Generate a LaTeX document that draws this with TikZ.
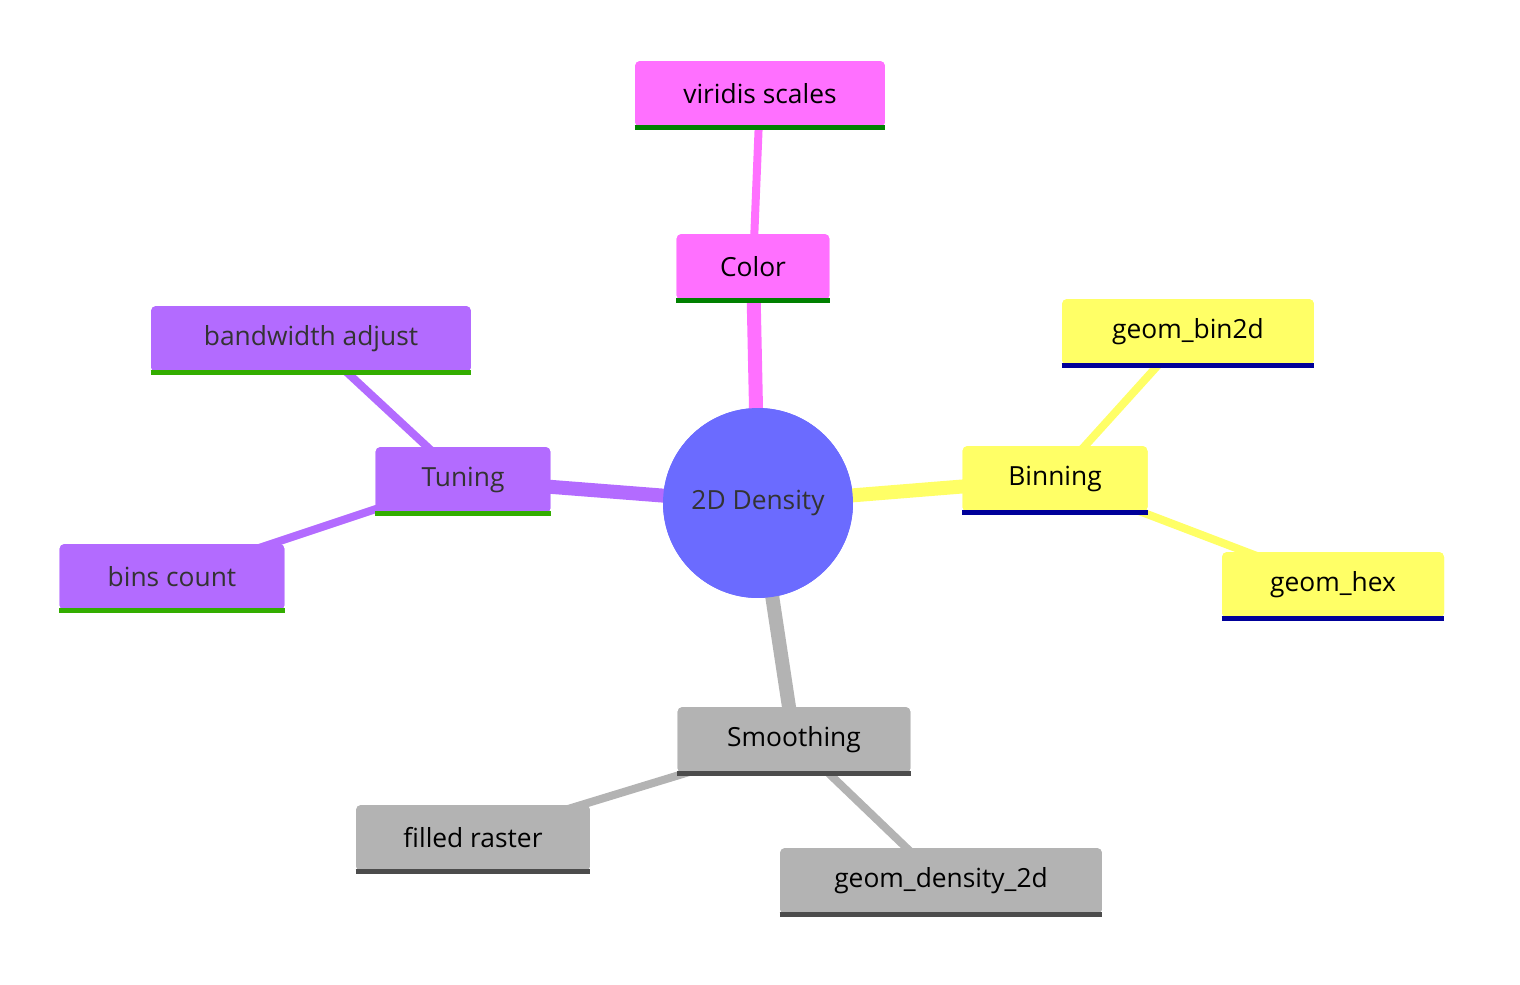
\documentclass[tikz,border=0pt]{standalone}
\usepackage{fontspec}
\setmainfont{Open Sans}
\definecolor{rootblue}{HTML}{6B6BFF}
\definecolor{pinkc}{HTML}{FF70FF}
\definecolor{yelc}{HTML}{FFFF66}
\definecolor{purc}{HTML}{B36BFF}
\definecolor{grayc}{HTML}{B3B3B3}
\definecolor{txtc}{HTML}{333333}
\tikzset{
  topic/.style={rectangle, rounded corners=0.1cm, minimum height=1.32cm, fill=#1, text=black,
    font=\fontsize{15}{18}\selectfont, inner sep=0pt},
  under/.style={line width=0.1cm, #1},
  link/.style={line width=#1, line cap=round},
}
\begin{document}
\begin{tikzpicture}[x=0.02cm, y=-0.02cm]
\useasboundingbox (0,0) rectangle (1520,984);

% root
\node[circle, fill=rootblue, minimum size=3.8cm, text=txtc, font=\fontsize{15}{18}\selectfont] (root) at (758,503) {2D Density};

% branch topics
\node[topic=pinkc, minimum width=3.06cm] (color) at (753,267) {Color};
\node[topic=pinkc, minimum width=5cm] (viridis) at (760,94) {viridis scales};
\node[topic=yelc, minimum width=3.7cm] (binning) at (1055,479) {Binning};
\node[topic=yelc, minimum width=5.04cm] (bin2d) at (1188,332) {geom\_bin2d};
\node[topic=yelc, minimum width=4.44cm] (hex) at (1333,585) {geom\_hex};
\node[topic=purc, minimum width=3.5cm, text=txtc] (tuning) at (463,480) {Tuning};
\node[topic=purc, minimum width=6.4cm, text=txtc] (bandwidth) at (311,339) {bandwidth adjust};
\node[topic=purc, minimum width=4.5cm, text=txtc] (bins) at (172,577) {bins count};
\node[topic=grayc, minimum width=4.66cm] (smoothing) at (794,740) {Smoothing};
\node[topic=grayc, minimum width=4.68cm] (raster) at (473,838) {filled raster};
\node[topic=grayc, minimum width=6.44cm] (dens2d) at (941,881) {geom\_density\_2d};

% connectors behind the nodes
\begin{scope}[on background layer/.style={}]
\end{scope}
\begin{pgfinterruptboundingbox}\end{pgfinterruptboundingbox}

\foreach \a/\b/\c/\w in {root/color/pinkc/0.28cm, color/viridis/pinkc/0.16cm,
    root/binning/yelc/0.28cm, binning/bin2d/yelc/0.16cm, binning/hex/yelc/0.16cm,
    root/tuning/purc/0.28cm, tuning/bandwidth/purc/0.16cm, tuning/bins/purc/0.16cm,
    root/smoothing/grayc/0.28cm, smoothing/raster/grayc/0.16cm, smoothing/dens2d/grayc/0.16cm}
  \draw[link=\w, \c] (\a.center) -- (\b.center);

% redraw nodes on top
\node[circle, fill=rootblue, minimum size=3.8cm, text=txtc, font=\fontsize{15}{18}\selectfont] at (root) {2D Density};
\foreach \n/\c/\t/\w/\u/\tc in {
    color/pinkc/Color/3.06cm/green!50!black/black,
    viridis/pinkc/viridis scales/5cm/green!50!black/black,
    binning/yelc/Binning/3.7cm/blue!60!black/black,
    bin2d/yelc/geom\_bin2d/5.04cm/blue!60!black/black,
    hex/yelc/geom\_hex/4.44cm/blue!60!black/black,
    tuning/purc/Tuning/3.5cm/green!60!black!80!yellow/txtc,
    bandwidth/purc/bandwidth adjust/6.4cm/green!60!black!80!yellow/txtc,
    bins/purc/bins count/4.5cm/green!60!black!80!yellow/txtc,
    smoothing/grayc/Smoothing/4.66cm/black!70/black,
    raster/grayc/filled raster/4.68cm/black!70/black,
    dens2d/grayc/geom\_density\_2d/6.44cm/black!70/black} {
  \node[topic=\c, minimum width=\w, text=\tc] (n) at (\n) {\t};
  \draw[under=\u] (n.south west) -- (n.south east);
}
\end{tikzpicture}
\end{document}
